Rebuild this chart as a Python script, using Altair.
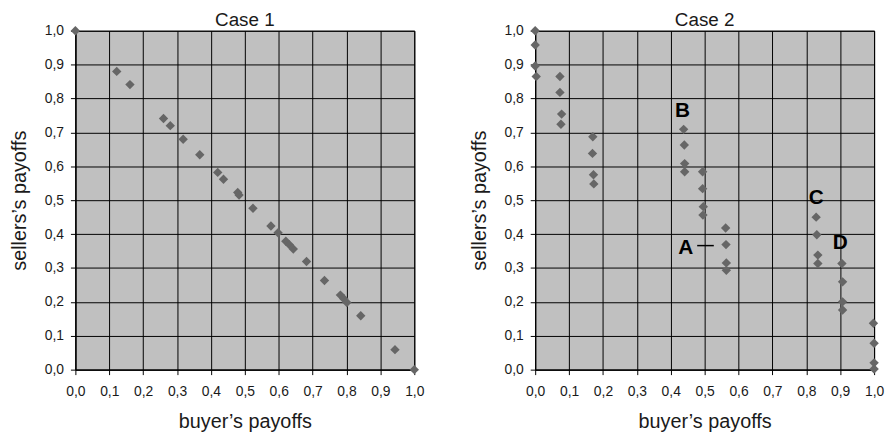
import altair as alt
import pandas as pd

# Case 1 points
case1_x = [0.0, 0.122, 0.161, 0.260, 0.280, 0.318, 0.367, 0.420, 0.437, 0.479, 0.483,
           0.524, 0.577, 0.598, 0.621, 0.631, 0.643, 0.682, 0.735, 0.782, 0.792, 0.801,
           0.842, 0.943, 1.0]
case1_y = [1.0, 0.880, 0.841, 0.741, 0.720, 0.680, 0.634, 0.582, 0.562, 0.523, 0.515,
           0.476, 0.424, 0.404, 0.379, 0.369, 0.356, 0.319, 0.263, 0.220, 0.209, 0.198,
           0.159, 0.059, 0.0]

# Case 2 points
case2_x = [0.0, 0.0, 0.0, 0.003,
           0.073, 0.073, 0.078, 0.076,
           0.170, 0.169, 0.172, 0.173,
           0.438, 0.440, 0.441, 0.441,
           0.494, 0.494, 0.496, 0.495,
           0.562, 0.563, 0.564, 0.564,
           0.829, 0.831, 0.834, 0.834,
           0.905, 0.907, 0.907, 0.907,
           0.998, 1.0, 1.0, 1.0]
case2_y = [1.0, 0.958, 0.896, 0.865,
           0.865, 0.818, 0.754, 0.724,
           0.687, 0.638, 0.575, 0.548,
           0.709, 0.663, 0.608, 0.584,
           0.584, 0.534, 0.481, 0.456,
           0.418, 0.369, 0.315, 0.293,
           0.450, 0.398, 0.338, 0.313,
           0.313, 0.259, 0.200, 0.176,
           0.137, 0.078, 0.020, 0.002]

label_text = ["A", "B", "C", "D"]
label_x = [0.444, 0.435, 0.829, 0.900]
label_y = [0.358, 0.763, 0.505, 0.373]

pointer_x = [0.478]
pointer_x2 = [0.527]
pointer_y = [0.366]

tick_values = [0.0, 0.1, 0.2, 0.3, 0.4, 0.5, 0.6, 0.7, 0.8, 0.9, 1.0]

FONT = "Liberation Sans"
PT_COLOR = "#666666"
TXT = "#1a1a1a"
W, H = 342, 342

label_expr = "replace(format(datum.value, '.1f'), '.', ',')"

def x_enc():
    return alt.X("x:Q", scale=alt.Scale(domain=[0, 1], nice=False),
                 axis=alt.Axis(values=tick_values, labelExpr=label_expr,
                               labelFlush=False, labelOverlap=False,
                               title="buyer\u2019s payoffs", titlePadding=13,
                               labelPadding=10))

def y_enc():
    return alt.Y("y:Q", scale=alt.Scale(domain=[0, 1], nice=False),
                 axis=alt.Axis(values=tick_values, labelExpr=label_expr,
                               labelFlush=False, labelOverlap=False,
                               title="sellers\u2019s payoffs", titlePadding=15,
                               labelPadding=7))

df1 = pd.DataFrame({"x": case1_x, "y": case1_y})
df2 = pd.DataFrame({"x": case2_x, "y": case2_y})
dfl = pd.DataFrame({"x": label_x, "y": label_y, "t": label_text})
dfp = pd.DataFrame({"x": pointer_x, "x2": pointer_x2, "y": pointer_y})

p1 = alt.Chart(df1).mark_point(shape="diamond", filled=True, size=90,
                               color=PT_COLOR, opacity=1, clip=False).encode(
    x=x_enc(), y=y_enc()
).properties(width=W, height=H, title="Case  1")

pts2 = alt.Chart(df2).mark_point(shape="diamond", filled=True, size=90,
                                 color=PT_COLOR, opacity=1, clip=False).encode(
    x=x_enc(), y=y_enc()
)
labels = alt.Chart(dfl).mark_text(font=FONT, fontSize=21, fontWeight="bold",
                                  color="black", align="center", baseline="middle").encode(
    x=x_enc(), y=y_enc(), text="t:N"
)
pointer = alt.Chart(dfp).mark_rule(color="black", strokeWidth=1.5).encode(
    x=x_enc(), x2="x2:Q", y=y_enc()
)
p2 = alt.layer(pts2, labels, pointer).properties(width=W, height=H, title="Case  2")

chart = alt.hconcat(p1, p2, spacing=44).properties(
    padding={"left": 1, "top": 0, "right": 0, "bottom": 0},
    background="white",
).configure_view(
    fill="#c0c0c0", stroke="black", strokeWidth=1
).configure_axis(
    grid=True, gridColor="black", gridOpacity=1, gridWidth=1,
    domainColor="black", domainWidth=1, tickColor="black", tickSize=5,
    labelFont=FONT, labelFontSize=14, labelColor=TXT,
    titleFont=FONT, titleFontSize=20, titleFontWeight="normal", titleColor=TXT
).configure_title(
    font=FONT, fontSize=19, fontWeight="normal", color=TXT, offset=-6
)

chart.save("out.html", embed_options={"renderer": "svg", "actions": False})
